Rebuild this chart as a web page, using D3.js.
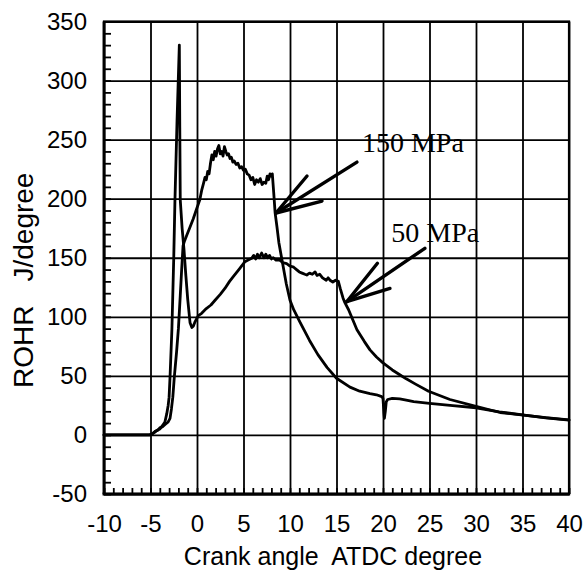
<!DOCTYPE html>
<html>
<head>
<meta charset="utf-8">
<script src="https://cdn.jsdelivr.net/npm/d3@7/dist/d3.min.js"></script>
<style>
  html, body { margin: 0; padding: 0; background: #fff; }
  svg { display: block; }
  .tick text { font-family: "Liberation Sans", Arial, Helvetica, sans-serif; font-size: 24px; fill: #000; }
</style>
</head>
<body>
<svg id="chart" width="585" height="575"></svg>
<script>
// ---------- data ----------
const xTicks = [-10, -5, 0, 5, 10, 15, 20, 25, 30, 35, 40];
const yTicks = [-50, 0, 50, 100, 150, 200, 250, 300, 350];
const xMinor = d3.range(-10, 41, 1);
const yMinor = d3.range(-50, 351, 10);

const xTitle = "Crank angle  ATDC degree";
const yTitleParts = ["ROHR", "J/degree"];

// 150 MPa injection pressure [crank angle, ROHR]
const mpa150 = [
  [-10,0],[-5.1,0],[-4.8,1],[-4.5,3],[-4.2,4],[-4.0,6],[-3.7,7],[-3.4,9],[-3.1,11],[-2.9,14],
  [-2.75,22],[-2.6,32],[-2.44,49],[-2.2,70],[-2.0,90],[-1.8,118],[-1.65,140],[-1.5,160],[-1.35,164],
  [-1.1,169],[-0.8,175],[-0.4,183],[-0.1,190],[0.3,199],[0.5,207],[0.7,213],[0.86,218],[1.0,216],
  [1.15,223],[1.3,221],[1.45,230],[1.6,237],[1.75,233],[1.9,240],[2.05,236],[2.2,242],[2.35,245],
  [2.5,238],[2.65,240],[2.8,236],[2.95,244],[3.1,240],[3.25,237],[3.4,238],[3.55,234],[3.7,235],
  [3.85,231],[4.0,232],[4.2,229],[4.4,230],[4.6,226],[4.8,227],[5.0,224],[5.2,225],[5.4,221],
  [5.6,220],[5.8,216],[6.0,218],[6.2,212],[6.4,216],[6.6,214],[6.8,217],[7.0,212],[7.2,214],
  [7.4,213],[7.55,219],[7.7,216],[7.85,221],[8.0,219],[8.1,221],[8.25,205],[8.4,188],[8.6,176],
  [8.8,163],[9.14,148],[9.6,128],[10.0,114],[10.4,106],[11.1,95],[12.1,80],[13.0,68],[14.0,57],
  [15.0,48],[16.45,40.5],[17.5,37],[18.6,35],[19.3,34],[19.86,32.4],[20.0,31],[20.1,18],[20.15,14],
  [20.25,20],[20.35,28],[20.5,30],[21.0,31],[21.8,30.5],[22.5,29.5],[23.3,28.2],[25.0,26.8],
  [27.5,24.8],[30.0,23],[32.5,19.5],[35.0,17],[37.5,14.5],[40,12.5]
];

// 50 MPa injection pressure [crank angle, ROHR]
const mpa50 = [
  [-10,0],[-5.1,0],[-4.8,1],[-4.6,2],[-4.3,4],[-4.0,5],[-3.7,8],[-3.45,11],[-3.25,18],[-3.1,25],
  [-3.0,32],[-2.9,49],[-2.7,89],[-2.5,150],[-2.37,199],[-2.15,265],[-1.9,330],[-1.85,260],[-1.8,199],
  [-1.6,175],[-1.4,157],[-1.2,135],[-1.0,115],[-0.75,95],[-0.55,91],[-0.4,92],[-0.2,96],[0.14,101],
  [0.5,103],[1.0,107],[1.5,110],[1.94,114],[2.5,119],[3.0,124],[3.5,130],[3.9,134],[4.5,140],
  [5.16,146.7],[5.5,148],[5.88,149.5],[6.1,152],[6.3,149],[6.5,153],[6.7,150],[6.95,154],[7.2,150],
  [7.4,153],[7.6,150],[7.8,152],[8.0,149],[8.2,150],[8.5,148],[8.9,148],[9.2,146],[9.64,145],
  [10.0,143],[10.4,142],[10.7,140],[11.0,138],[11.3,137],[11.6,136],[11.8,135.4],[12.1,137],
  [12.4,136],[12.7,138],[12.9,135],[13.2,136],[13.5,133],[13.9,131],[14.1,133],[14.3,131],
  [14.6,129.5],[14.9,131],[15.2,130],[15.4,124],[15.7,116],[15.9,112],[16.3,106],[17.2,89],
  [18.0,79],[18.6,72],[19.3,66],[20.0,61],[21.0,55],[21.8,51],[22.5,47.5],[23.5,43],[24.9,37],
  [27.2,30],[30.1,24],[32.6,19],[35.1,16.8],[37.5,14.6],[40,12.7]
];

// annotations: label, label anchor, arrow tip, shaft end, two barb ends (data units)
const annLabels = ["150 MPa", "50 MPa"];
const annText   = [[17.74, 239.5], [20.9, 163.3]];
const annTip    = [[8.49, 187.9], [16.1, 112.8]];
const annShaft  = [[17.2, 231], [24.5, 158]];
const annBarb1  = [[11.83, 219.2], [19.4, 145.3]];
const annBarb2  = [[13.44, 198], [20.75, 124]];

// ---------- layout ----------
const svg = d3.select("#chart");
const L = 104, R = 569, T = 21.5, B = 494;
const W = R - L, H = B - T;

const x = d3.scaleLinear().domain([-10, 40]).range([L, R]);
const y = d3.scaleLinear().domain([-50, 350]).range([B, T]);
const fmt = d => String(d);

function styleTicks(g) {
  g.select(".domain").remove();
  g.selectAll(".tick line").attr("stroke", "#000").attr("stroke-width", 1.8);
}

// grid + labels (left)
svg.append("g").attr("transform", `translate(${L},0)`)
  .call(d3.axisLeft(y).tickValues(yTicks).tickSize(-W).tickPadding(17).tickFormat(fmt))
  .call(styleTicks);

// grid + labels (bottom)
svg.append("g").attr("transform", `translate(0,${B})`)
  .call(d3.axisBottom(x).tickValues(xTicks).tickSize(-H).tickPadding(21).tickFormat(fmt))
  .call(styleTicks);

// minor ticks
svg.append("g").attr("transform", `translate(${L},0)`)
  .call(d3.axisLeft(y).tickValues(yMinor).tickSize(-7).tickFormat(""))
  .call(styleTicks);
svg.append("g").attr("transform", `translate(0,${B})`)
  .call(d3.axisBottom(x).tickValues(xMinor).tickSize(-6).tickFormat(""))
  .call(styleTicks);

// frame
svg.append("rect").attr("x", L).attr("y", T).attr("width", W).attr("height", H)
  .attr("fill", "none").attr("stroke", "#000").attr("stroke-width", 2.2);
svg.append("line").attr("x1", L).attr("x2", L).attr("y1", T).attr("y2", B)
  .attr("stroke", "#000").attr("stroke-width", 2.8);
svg.append("line").attr("x1", L - 1.4).attr("x2", R + 1.1).attr("y1", B).attr("y2", B)
  .attr("stroke", "#000").attr("stroke-width", 2.8);

// curves
const line = d3.line().x(d => x(d[0])).y(d => y(d[1]));
[mpa150, mpa50].forEach(s => {
  svg.append("path").datum(s).attr("d", line)
    .attr("fill", "none").attr("stroke", "#000").attr("stroke-width", 2.8)
    .attr("stroke-linejoin", "round").attr("stroke-linecap", "round");
});

// annotations
annLabels.forEach((lab, i) => {
  const tip = annTip[i];
  [annShaft[i], annBarb1[i], annBarb2[i]].forEach(e => {
    svg.append("line")
      .attr("x1", x(tip[0])).attr("y1", y(tip[1]))
      .attr("x2", x(e[0])).attr("y2", y(e[1]))
      .attr("stroke", "#000").attr("stroke-width", 3.4).attr("stroke-linecap", "round");
  });
  svg.append("text").attr("x", x(annText[i][0])).attr("y", y(annText[i][1]))
    .attr("font-family", "'Liberation Serif', 'Times New Roman', serif")
    .attr("font-size", 28).attr("fill", "#000").text(lab);
});

// axis titles
svg.append("text").attr("x", 333).attr("y", 565).attr("text-anchor", "middle")
  .attr("font-family", "'Liberation Sans', Arial, sans-serif").attr("font-size", 25)
  .style("white-space", "pre").text(xTitle);
const yt = svg.append("text").attr("transform", "translate(33,388) rotate(-90)")
  .attr("font-family", "'Liberation Sans', Arial, sans-serif").attr("font-size", 28);
yt.append("tspan").text(yTitleParts[0]);
yt.append("tspan").attr("dx", 24).text(yTitleParts[1]);
</script>
</body>
</html>
